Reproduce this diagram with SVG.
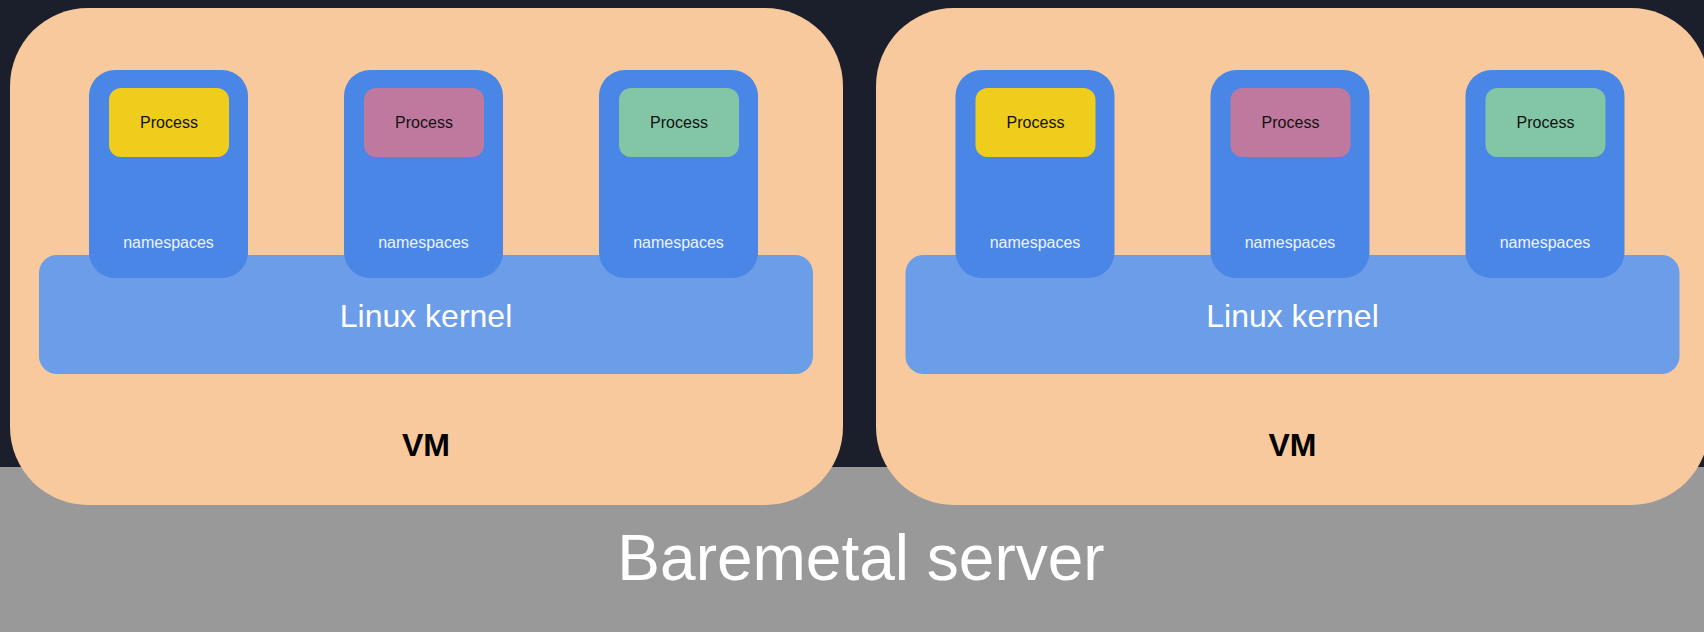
<svg xmlns="http://www.w3.org/2000/svg" width="1704" height="632" viewBox="0 0 1704 632">
<style>
.vm{fill:#f8c99c}
.ns{fill:#4a86e6}
.kern{fill:#6c9de9}
.p1{fill:#efcd1c}
.p2{fill:#c0799e}
.p3{fill:#83c6a6}
text{font-family:"Liberation Sans",Arial,sans-serif;text-anchor:middle}
.pt{font-size:16px;fill:#111111}
.nt{font-size:16px;fill:#eef3fd}
.kt{font-size:32px;fill:#ffffff}
.vt{font-size:32px;font-weight:bold;fill:#000000}
.bt{font-size:64px;fill:#ffffff}
</style>
<rect x="0" y="0" width="1704" height="632" fill="#1b1f2b"/>
<g id="baremetal">
<rect x="0" y="467" width="1704" height="165" fill="#999999"/>
<text class="bt" x="861" y="580">Baremetal server</text>
</g>
<g id="vm1">
<rect class="vm" x="10" y="8" width="833" height="497" rx="78"/>
<text class="vt" x="426" y="456">VM</text>
</g>
<g id="kernel1">
<rect class="kern" x="39" y="255" width="774" height="119" rx="18"/>
<text class="kt" x="426" y="327">Linux kernel</text>
</g>
<g id="ns1a">
<rect class="ns" x="89" y="70" width="159" height="208" rx="26"/>
<text class="nt" x="168.5" y="248">namespaces</text>
</g>
<g id="proc1a">
<rect class="p1" x="109" y="88" width="120" height="69" rx="12"/>
<text class="pt" x="169" y="128">Process</text>
</g>
<g id="ns1b">
<rect class="ns" x="344" y="70" width="159" height="208" rx="26"/>
<text class="nt" x="423.5" y="248">namespaces</text>
</g>
<g id="proc1b">
<rect class="p2" x="364" y="88" width="120" height="69" rx="12"/>
<text class="pt" x="424" y="128">Process</text>
</g>
<g id="ns1c">
<rect class="ns" x="599" y="70" width="159" height="208" rx="26"/>
<text class="nt" x="678.5" y="248">namespaces</text>
</g>
<g id="proc1c">
<rect class="p3" x="619" y="88" width="120" height="69" rx="12"/>
<text class="pt" x="679" y="128">Process</text>
</g>
<g id="vm2">
<rect class="vm" x="876" y="8" width="833" height="497" rx="78"/>
<text class="vt" x="1292.5" y="456">VM</text>
</g>
<g id="kernel2">
<rect class="kern" x="905.5" y="255" width="774" height="119" rx="18"/>
<text class="kt" x="1292.5" y="327">Linux kernel</text>
</g>
<g id="ns2a">
<rect class="ns" x="955.5" y="70" width="159" height="208" rx="26"/>
<text class="nt" x="1035" y="248">namespaces</text>
</g>
<g id="proc2a">
<rect class="p1" x="975.5" y="88" width="120" height="69" rx="12"/>
<text class="pt" x="1035.5" y="128">Process</text>
</g>
<g id="ns2b">
<rect class="ns" x="1210.5" y="70" width="159" height="208" rx="26"/>
<text class="nt" x="1290" y="248">namespaces</text>
</g>
<g id="proc2b">
<rect class="p2" x="1230.5" y="88" width="120" height="69" rx="12"/>
<text class="pt" x="1290.5" y="128">Process</text>
</g>
<g id="ns2c">
<rect class="ns" x="1465.5" y="70" width="159" height="208" rx="26"/>
<text class="nt" x="1545" y="248">namespaces</text>
</g>
<g id="proc2c">
<rect class="p3" x="1485.5" y="88" width="120" height="69" rx="12"/>
<text class="pt" x="1545.5" y="128">Process</text>
</g>
<g id="connectors"></g>
</svg>
